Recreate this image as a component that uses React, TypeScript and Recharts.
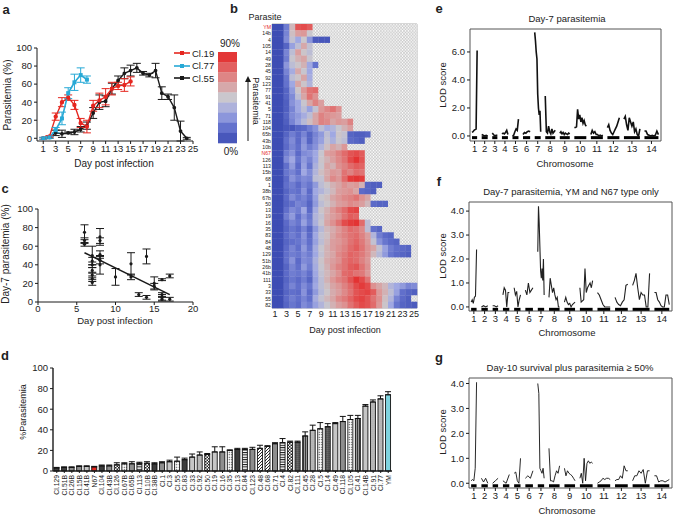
import React from 'react'
import {
  LineChart,
  Line,
  ScatterChart,
  Scatter,
  BarChart,
  Bar,
  Cell,
  XAxis,
  YAxis,
  ErrorBar,
  ReferenceLine,
  ReferenceArea,
} from 'recharts'

const FONT = 'Arial, "Liberation Sans", Helvetica, sans-serif'
const INK = '#1a1a1a'
const RED = '#e5261f'
const CYAN = '#27a9d6'
const CYAN_BAR = '#7fd4df'

// ---- a: parasitemia time course of three clones
const dayTicks = [1, 3, 5, 7, 9, 11, 13, 15, 17, 19, 21, 23, 25]
const cl19Pct = [0, 2, 24, 40, 45, 37, 17, 13, 36, 42, 46, 55, 58, 59, 63]
const cl19Err = [1, 1, 4, 5, 3, 5, 5, 7, 6, 8, 9, 7, 4, 7, 5]
const cl77Pct = [0, 1, 9, 22, 50, 62, 70, 65]
const cl77Err = [1, 1, 3, 7, 6, 9, 8, 4]
const cl55Pct = [0, 1, 6, 5, 6, 7, 10, 14, 28, 40, 41, 55, 64, 72, 75, 78, 72, 70, 75, 50, 46, 34, 8, 0]
const cl55Err = [0, 1, 3, 4, 1, 3, 3, 4, 6, 8, 6, 6, 5, 6, 6, 5, 2, 2, 8, 7, 3, 14, 11, 1]

// ---- b: heat map, one row per parasite, one value per day (% parasitemia)
const heatLabels = [
  'YM', '14b', '4', '105', '14', '49', '28', '45', '92', '123', '77', '91', '41', '5', '71',
  '118', '104', '65b', '43b', '10b', 'N67', '126', '113', '15b', '68', '1', '38b', '67b', '50', '13',
  '19', '16', '35', '83', '84', '48', '129', '51b', '26b', '41b', '111', '3', '33', '55', '82',
]
const heatRows: (number | null)[][] = [
  [1, 1, 18, 50, 78, 80, 76],
  [1, 1, 20, 48, 58, 60, 45],
  [1, 1, 22, 42, 30, 45, 25, 6, 5, 5],
  [1, 1, 10, 28, 40, 55, 42],
  [1, 1, 20, 40, 58, 46, 40],
  [1, 1, 18, 44, 52, 56, 44],
  [1, 1, 25, 40, 46, 52, 30, 15],
  [1, 1, 20, 32, 55, 44, 30],
  [1, 1, 16, 40, 46, 56, 32],
  [1, 1, 15, 30, 56, 46, 36],
  [1, 1, 10, 26, 46, 60, 70, 72],
  [1, 1, 10, 22, 40, 56, 70, 62],
  [1, 1, 8, 24, 30, 44, 56, 66, 58],
  [1, 1, 8, 20, 30, 40, 28, 42, 60, 65, 70, 62],
  [1, 1, 10, 22, 26, 32, 40, 56, 66, 62, 60, 58],
  [1, 1, 8, 20, 28, 38, 48, 56, 66, 64, 56, 60, 58, 66],
  [1, 1, 5, 5, 10, 12, 18, 24, 40, 32, 36, 44, 52, 58],
  [1, 1, 10, 18, 12, 20, 10, 20, 26, 40, 30, 46, 42, 10, 8, 8, 10],
  [1, 1, 14, 22, 12, 24, 10, 22, 28, 42, 34, 44, 40, 12, 10, 8],
  [1, 1, 12, 20, 14, 26, 18, 24, 36, 48, 56, 52, 60],
  [1, 1, 18, 24, 12, 22, 24, 30, 44, 58, 60, 66, 72, 78, 80, 76],
  [1, 1, 22, 30, 16, 26, 20, 30, 46, 52, 58, 64, 70, 80, 86, 78],
  [1, 1, 14, 26, 12, 28, 16, 34, 44, 56, 52, 62, 66, 72, 76, 74],
  [1, 1, 16, 20, 14, 30, 22, 36, 48, 54, 60, 58, 70, 66, 72, 70],
  [1, 1, 12, 24, 18, 22, 20, 40, 42, 56, 64, 60, 72, 84, 86, 84],
  [1, 1, 14, 18, 12, 20, 16, 26, 40, 46, 52, 56, 62, 58, 60, 52, 10, 8, 8],
  [1, 1, 10, 16, 14, 24, 12, 30, 36, 42, 50, 58, 60, 62, 56, 12, 10, 8],
  [1, 1, 12, 22, 16, 20, 14, 28, 44, 48, 56, 60, 64, 66, 70, 62, 56],
  [1, 1, 10, 14, 20, 18, 10, 26, 40, 46, 52, 58, 60, 64, 62, 58, 50, 12, 10, 10],
  [1, 1, 14, 22, 18, 30, 12, 32, 46, 52, 60, 66, 72, 80, 82],
  [1, 1, 18, 26, 14, 24, 16, 36, 42, 54, 58, 62, 70, 76, 74],
  [1, 1, 12, 20, 16, 28, 18, 34, 44, 56, 62, 70, 80, 84, 86, 72, 40],
  [1, 1, 10, 16, 12, 20, 10, 26, 38, 50, 54, 60, 66, 72, 70, 64, 40, 14, 10],
  [1, 1, 12, 18, 14, 24, 12, 30, 42, 48, 56, 62, 66, 70, 72, 66, 58, 36, 18, 12, 10],
  [1, 1, 10, 14, 16, 22, 14, 28, 40, 50, 58, 60, 64, 70, 74, 68, 60, 42, 24, 16, 12, 10],
  [1, 1, 12, 20, 14, 26, 16, 32, 44, 52, 58, 62, 66, 72, 76, 70, 62, 56, 42, 28, 18, 14, 12, 10],
  [1, 1, 14, 18, 16, 22, 18, 30, 42, 52, 56, 64, 68, 74, 72, 68, 62, 50, 38, 26, 16, 12, 10, 8],
  [1, 1, 14, 24, 12, 22, 20, 34, 46, 54, 58, 62, 70, 74, 72, 66, 60],
  [1, 1, 10, 20, 14, 26, 18, 32, 44, 52, 60, 66, 70, 76, 78, 70, 62],
  [1, 1, 12, 18, 16, 20, 14, 30, 42, 50, 56, 62, 72, 74, 70, 68, 60],
  [1, 1, 10, 16, 12, 18, 10, 28, 40, 52, 60, 66, 70, 78, 86, 80, 70],
  [1, 1, 12, 20, 14, 22, 16, 30, 40, 48, 56, 60, 66, 72, 80, 84, 80, 62, 56, 50, 36, 30, 26, 20, 22],
  [1, 1, 10, 14, 12, 24, 12, 26, 38, 46, 54, 58, 64, 70, 78, 80, 82, 76, 60, 52, 40, 28, 14, 10, 8],
  [1, 1, 12, 18, 14, 20, 14, 32, 42, 50, 56, 64, 68, 74, 80, 82, 78, 70, 62, 48, 36, 20, 12, 8],
  [1, 1, 10, 16, 12, 22, 18, 28, 36, 44, 52, 58, 62, 70, 76, 80, 78, 72, 60, 46, 30, 16, 10, 8, 6],
]
const heatDays = Array.from({ length: 25 }, (_, i) => i + 1)
const colorbarSteps = [85, 75, 65, 55, 45, 35, 25, 15, 5]

// ---- c: day-7 parasitemia against day of death
const c7Day = [6, 6, 6, 7, 7, 7, 7, 7, 7, 7, 8, 8, 8, 8, 8, 10, 12, 12, 13, 14, 14, 15, 15, 16, 16, 16, 16, 17, 17]
const c7Pct = [75, 66, 62, 50, 44, 40, 34, 29, 25, 21, 70, 66, 51, 45, 40, 27, 41, 27, 8, 49, 5, 20, 17, 24, 8, 5, 3, 28, 3]
const c7Err = [8, 3, 2, 10, 4, 3, 3, 3, 3, 3, 9, 3, 4, 4, 10, 9, 12, 3, 2, 8, 2, 7, 3, 1, 2, 3, 2, 2, 2]
const c7FitDay = [6, 17]
const c7FitPct = [53, 8]

// ---- d: day-7 parasitemia per clone
const barNames = [
  'Cl.129', 'Cl.51B', 'Cl.26B', 'Cl.15B', 'Cl.41B', 'N67', 'Cl.104', 'Cl.43B', 'Cl.126', 'Cl.67B',
  'Cl.65B', 'Cl.113', 'Cl.10B', 'Cl.38B', 'Cl.1', 'Cl.3', 'Cl.55', 'Cl.83', 'Cl.33', 'Cl.92',
  'Cl.50', 'Cl.19', 'Cl.16', 'Cl.35', 'Cl.13', 'Cl.84', 'Cl.123', 'Cl.48', 'Cl.68', 'Cl.71',
  'Cl.4', 'Cl.82', 'Cl.111', 'Cl.45', 'Cl.28', 'Cl.5', 'Cl.14', 'Cl.49', 'Cl.118', 'Cl.105',
  'Cl.41', 'Cl.14B', 'Cl.91', 'Cl.77', 'YM',
]
const barPct = [
  3, 3.5, 3.5, 4.5, 4.5, 4, 5, 5, 6, 7, 7, 7.5, 7.5, 7, 8, 9, 9.5, 11, 13.5, 15.5,
  16, 18.5, 18.5, 20, 21, 21, 21, 22, 24, 26.5, 27.5, 28, 28, 34, 39.5, 41, 43, 46, 48, 50,
  51, 63, 67, 70, 74,
]
const barErr = [
  0.5, 0.5, 0.5, 0.5, 0.5, 0.5, 0.8, 0.8, 2, 1, 2, 1, 1.5, 1, 1, 1.5, 4, 1.5, 3, 3,
  1, 5, 5, 0.5, 1, 1, 2, 3, 0.5, 1, 4, 1, 1, 4, 5, 6, 3, 1, 5, 4,
  3, 1.5, 2, 3, 3,
]

// ---- e, f, g: genome scans (chromosome sizes in Mb, LOD values along each chromosome)
const chromLengths = [0.9, 1.05, 0.9, 1.05, 1.05, 1.25, 1.05, 1.75, 1.75, 2.1, 2.1, 2.1, 2.8, 2.45]
const CHROM_GAP = 0.8
const GENOME_START = 0.35
const GENOME_END = 33.5

const lodDay7 = [
  [0.25, 0.3, 0.4, 0.45, 0.5, 6.1],
  [0.1, 0.05, 0.0, 0.05, 0.0],
  [0.2, 0.1, 0.0, 0.05, 0.05],
  [0.15, 0.2, 0.15, 0.25, 0.4, 0.1],
  [0.0, 0.05, 0.3, 0.5, 0.4, 1.2],
  [0.1, 0.25, 0.2, 0.3, 0.35, 0.3],
  [7.4, 6.8, 6.0, 5.5, 3.0, 2.0, 1.5, 1.8, 0.3],
  [2.85, 0.3, 0.2, 0.7, 0.3, 0.15, 0.5, 0.2, 0.3, 0.4],
  [0.2, 0.3, 0.15, 0.25, 0.1, 0.2, 0.15, 0.1, 0.2, 0.15],
  [0.6, 0.6, 0.65, 1.9, 1.2, 1.5, 1.0, 1.3, 0.9, 1.1, 0.8, 0.7],
  [0.1, 0.4, 0.2, 0.3, 0.1, 0.1, 0.0, 0.05, 0.0, 0.05],
  [0.6, 0.8, 0.4, 0.2, 0.1, 0.3, 0.5, 0.7, 1.0, 1.3],
  [1.2, 1.4, 0.8, 0.4, 1.3, 1.0, 0.7, 1.0, 0.3, 0.5, 0.1, 0.0, 0.5],
  [0.35, 0.35, 0.1, 0.05, 0.0, 0.05, 0.0, 0.05, 0.35, 0.1],
]
const lodYmN67 = [
  [0.2, 0.3, 0.15, 0.4, 0.45, 2.4],
  [0.0, 0.05, 0.0, 0.05],
  [0.05, 0.05, 0.0, 0.05],
  [0.5, 0.8, 0.7, 0.0, 0.6, 0.6],
  [0.8, 0.5, 0.65, 0.0, 0.3, 0.5],
  [0.7, 0.5, 1.0, 0.6, 0.7, 0.8],
  [2.3, 4.2, 3.5, 2.5, 1.5, 1.2, 1.6, 1.1, 2.0, 0.5],
  [0.4, 1.2, 0.9, 0.6, 0.8, 0.5, 0.3, 0.4, 0.0, 0.0],
  [0.2, 0.4, 0.2, 0.1, 0.15, 0.0, 0.1, 0.15, 0.2],
  [0.8, 0.2, 0.25, 0.3, 1.6, 0.6, 0.8, 0.9, 1.0, 0.8, 1.1],
  [0.6, 0.5, 0.3, 0.1, 0.0, 0.0, 0.0, 0.0],
  [0.4, 0.2, 0.1, 0.05, 0.2, 0.3, 0.9, 0.95],
  [0.9, 1.1, 1.4, 0.8, 0.3, 0.6, 0.5, 0.5, 0.0, 0.0, 1.4],
  [0.6, 0.6, 0.3, 0.2, 0.05, 0.0, 0.0, 0.5, 0.5, 0.1],
]
const lodDay10 = [
  [0.1, 0.15, 0.1, 0.6, 4.05],
  [0.2, 0.05, 0.2, 0.0],
  [0.0, 0.1, 0.2],
  [0.1, 0.0, 0.35],
  [0.4, 0.45, 0.1, 0.0, 1.0],
  [0.2, 0.3, 0.2, 0.5],
  [4.0, 3.6, 0.6, 0.5, 0.4, 0.6, 0.2],
  [1.4, 0.1, 0.1, 0.05, 0.3, 0.5, 0.4, 0.7],
  [0.6, 0.3, 0.5, 0.4, 0.35, 0.3, 0.2, 0.1],
  [0.2, 0.4, 0.0, 1.0, 0.1, 0.8, 0.9, 0.8, 0.85, 0.8],
  [0.0, 0.05, 0.1, 0.2, 0.15, 0.2, 0.2, 0.15],
  [0.1, 0.15, 0.15, 0.3, 0.2, 0.7, 0.5, 0.5],
  [0.1, 0.3, 0.3, 0.5, 0.4, 0.55, 0.0, 0.5, 0.5],
  [0.3, 0.3, 0.05, 0.1, 0.1, 0.05, 0.1, 0.15],
]

// ---------- derived tables ----------
const toRows = (vals: number[], errs: number[]) => vals.map((v, i) => ({ day: i + 1, v, e: errs[i] }))
const cl19Rows = toRows(cl19Pct, cl19Err)
const cl77Rows = toRows(cl77Pct, cl77Err)
const cl55Rows = toRows(cl55Pct, cl55Err)

const heatCells = heatRows.flatMap((vals, r) => heatDays.map((d) => ({ day: d, row: r, v: vals[d - 1] ?? null })))

const c7Points = c7Day.map((d, i) => ({ day: d, pct: c7Pct[i], err: c7Err[i] }))
const c7Fit = c7FitDay.map((d, i) => ({ day: d, pct: c7FitPct[i] }))

const barRows = barNames.map((n, i) => ({ name: n, v: barPct[i], err: [0, barErr[i]] }))

const chromStarts: number[] = []
chromLengths.reduce((pos, len) => {
  chromStarts.push(pos)
  return pos + len + CHROM_GAP
}, GENOME_START)
const chromCenters = chromStarts.map((s, i) => s + chromLengths[i] / 2)

function lodRows(chroms: number[][]) {
  const out: { pos: number; lod: number | null }[] = []
  chroms.forEach((vals, c) => {
    const s = chromStarts[c]
    const len = chromLengths[c]
    vals.forEach((v, i) => out.push({ pos: s + (len * i) / (vals.length - 1), lod: v }))
    out.push({ pos: s + len + CHROM_GAP / 2, lod: null })
  })
  return out
}

// ---------- styling helpers ----------
const HEAT_STOPS: [number, number[]][] = [
  [0, [58, 74, 178]],
  [15, [100, 114, 205]],
  [30, [160, 168, 226]],
  [45, [202, 199, 205]],
  [60, [220, 152, 152]],
  [75, [226, 96, 96]],
  [90, [228, 34, 34]],
]
function heatColor(v: number) {
  const x = Math.max(0, Math.min(90, v))
  for (let i = 1; i < HEAT_STOPS.length; i++) {
    const [v1, c1] = HEAT_STOPS[i]
    const [v0, c0] = HEAT_STOPS[i - 1]
    if (x <= v1) {
      const t = (x - v0) / (v1 - v0)
      const c = c0.map((k, j) => Math.round(k + (c1[j] - k) * t))
      return `rgb(${c[0]},${c[1]},${c[2]})`
    }
  }
  return 'rgb(228,34,34)'
}

const barPattern: Record<string, string> = {
  'Cl.129': 'dk', 'Cl.51B': 'dk', 'Cl.26B': 'gy', 'Cl.15B': 'gy', 'Cl.41B': 'lg', 'Cl.104': 'dk',
  'Cl.43B': 'gy', 'Cl.126': 'ck', 'Cl.67B': 'wd', 'Cl.65B': 'gy', 'Cl.113': 'hl', 'Cl.10B': 'ck',
  'Cl.38B': 'dk', 'Cl.1': 'gy', 'Cl.3': 'lg', 'Cl.55': 'wd', 'Cl.83': 'dk', 'Cl.33': 'lg',
  'Cl.92': 'gd', 'Cl.50': 'ck', 'Cl.19': 'lg', 'Cl.16': 'gy', 'Cl.35': 'wd', 'Cl.13': 'dk',
  'Cl.84': 'hl', 'Cl.123': 'gy', 'Cl.48': 'dg', 'Cl.68': 'dg', 'Cl.71': 'gy', 'Cl.4': 'hl',
  'Cl.82': 'ck', 'Cl.111': 'dt', 'Cl.45': 'vl', 'Cl.28': 'gd', 'Cl.5': 'wd', 'Cl.14': 'dt',
  'Cl.49': 'lg', 'Cl.118': 'gy', 'Cl.105': 'wd', 'Cl.41': 'vl', 'Cl.14B': 'lg', 'Cl.91': 'gd',
  'Cl.77': 'gd',
}
const barFill = (name: string) => {
  if (name === 'N67') return RED
  if (name === 'YM') return CYAN_BAR
  return `url(#bp-${barPattern[name]})`
}

type Box = { x0: number; y0: number; x1: number; y1: number }
const PAD = 12
function frame(b: Box, yw: number, xh: number) {
  return {
    style: { position: 'absolute' as const, left: b.x0 - yw - PAD, top: b.y0 - PAD },
    width: b.x1 - b.x0 + yw + 2 * PAD,
    height: b.y1 - b.y0 + xh + 2 * PAD,
    margin: { top: PAD, right: PAD, bottom: PAD, left: PAD },
  }
}

function Txt(props: { x: number; y: number; size?: number; rot?: number; bold?: boolean; color?: string; children: React.ReactNode }) {
  const { x, y, size = 10, rot = 0, bold = false, color = '#222', children } = props
  return (
    <div
      style={{
        position: 'absolute',
        left: x,
        top: y,
        transform: `translate(-50%, -50%) rotate(${rot}deg)`,
        fontSize: size,
        fontWeight: bold ? 700 : 400,
        color,
        whiteSpace: 'nowrap',
        lineHeight: 1,
      }}
    >
      {children}
    </div>
  )
}

const tickStyle = { fontSize: 9.5, fill: '#222' }

// ---------- panel a ----------
const aBox = { x0: 37, y0: 48, x1: 193, y1: 141 }
function PanelA() {
  const f = frame(aBox, 25, 20)
  const square = (p: any) => <rect key={`s${p.index}`} x={p.cx - 2} y={p.cy - 2} width={4} height={4} fill={CYAN} />
  return (
    <div style={f.style}>
      <LineChart width={f.width} height={f.height} margin={f.margin}>
        <XAxis type="number" dataKey="day" domain={[0, 25]} ticks={dayTicks} interval={0} tick={tickStyle}
          tickSize={3} tickMargin={1} stroke={INK} height={20} allowDuplicatedCategory={false} />
        <YAxis type="number" domain={[0, 100]} ticks={[0, 20, 40, 60, 80, 100]} interval={0} tick={tickStyle}
          tickSize={3} stroke={INK} width={25} />
        <Line data={cl55Rows} dataKey="v" stroke={INK} strokeWidth={1.4} dot={{ r: 1.2, fill: INK }} isAnimationActive={false}>
          <ErrorBar dataKey="e" width={4} stroke={INK} strokeWidth={1} direction="y" />
        </Line>
        <Line data={cl19Rows} dataKey="v" stroke={RED} strokeWidth={1.4} dot={{ r: 1.5, fill: RED, stroke: RED }} isAnimationActive={false}>
          <ErrorBar dataKey="e" width={4} stroke={RED} strokeWidth={1} direction="y" />
        </Line>
        <Line data={cl77Rows} dataKey="v" stroke={CYAN} strokeWidth={1.6} dot={square} isAnimationActive={false}>
          <ErrorBar dataKey="e" width={4} stroke={CYAN} strokeWidth={1} direction="y" />
        </Line>
      </LineChart>
    </div>
  )
}

function LegendA() {
  const items = [
    { name: 'Cl.19', color: RED },
    { name: 'Cl.77', color: CYAN },
    { name: 'Cl.55', color: INK },
  ]
  return (
    <div style={{ position: 'absolute', left: 174, top: 47 }}>
      {items.map((it) => (
        <div key={it.name} style={{ display: 'flex', alignItems: 'center', height: 12.5, fontSize: 9.5, color: '#222' }}>
          <svg width={16} height={6} style={{ marginRight: 2 }}>
            <line x1={0} y1={3} x2={16} y2={3} stroke={it.color} strokeWidth={1.6} />
            <rect x={6} y={1} width={4} height={4} fill={it.color} />
          </svg>
          {it.name}
        </div>
      ))}
    </div>
  )
}

// ---------- panel b ----------
const bBox = { x0: 272, y0: 24, x1: 417, y1: 308 }
const CW = (bBox.x1 - bBox.x0) / heatDays.length
const CH = (bBox.y1 - bBox.y0) / heatLabels.length

function HeatCell(p: any) {
  const { cx, cy, payload } = p
  const fill = payload.v == null ? 'url(#hatch)' : heatColor(payload.v)
  return <rect x={cx - CW / 2} y={cy - CH / 2} width={CW + 0.3} height={CH + 0.3} fill={fill} />
}

function HeatTick(p: any) {
  const lab = heatLabels[p.payload.value]
  const red = lab === 'YM' || lab === 'N67'
  return (
    <text x={p.x} y={p.y} dy={2} textAnchor="end" fontSize={5.2} fill={red ? RED : '#222'}>
      {lab}
    </text>
  )
}

function PanelB() {
  const f = frame(bBox, 30, 16)
  const rowTicks = heatLabels.map((_, i) => i)
  return (
    <div style={f.style}>
      <ScatterChart width={f.width} height={f.height} margin={f.margin}>
        <defs>
          <pattern id="hatch" patternUnits="userSpaceOnUse" width={2.9} height={3.15}>
            <rect width={2.9} height={3.15} fill="#fff" />
            <path d="M0,0 L2.9,3.15 M2.9,0 L0,3.15" stroke="#9a9a9a" strokeWidth={0.45} />
          </pattern>
        </defs>
        <XAxis type="number" dataKey="day" domain={[0.5, 25.5]} ticks={dayTicks} interval={0} tick={{ fontSize: 9, fill: '#222' }}
          tickLine={false} axisLine={false} tickSize={0} tickMargin={3} height={16} />
        <YAxis type="number" dataKey="row" domain={[-0.5, 44.5]} reversed ticks={rowTicks} interval={0} tick={HeatTick}
          tickLine={false} axisLine={false} tickSize={0} tickMargin={1} width={30} />
        <Scatter data={heatCells} shape={HeatCell} isAnimationActive={false} />
        {heatDays.slice(1).map((d) => (
          <ReferenceLine key={d} x={d - 0.5} stroke="#222" strokeOpacity={0.45} strokeWidth={0.6} />
        ))}
        <ReferenceArea x1={0.5} x2={25.5} y1={-0.5} y2={44.5} fill="none" stroke="#999" strokeWidth={0.8} ifOverflow="visible" />
      </ScatterChart>
    </div>
  )
}

function Colorbar() {
  const h = 91 / colorbarSteps.length
  return (
    <svg style={{ position: 'absolute', left: 214, top: 50 }} width={40} height={96}>
      {colorbarSteps.map((v, i) => (
        <rect key={v} x={4} y={2 + i * h} width={19} height={h + 0.3} fill={heatColor(v)} />
      ))}
      <line x1={34} y1={91} x2={34} y2={31} stroke={INK} strokeWidth={1} />
      <path d="M31,32 L34,26 L37,32 Z" fill={INK} />
    </svg>
  )
}

// ---------- panel c ----------
const cBox = { x0: 38, y0: 209, x1: 193, y1: 302 }
function PanelC() {
  const f = frame(cBox, 26, 16)
  const dotShape = (p: any) => <circle cx={p.cx} cy={p.cy} r={1.6} fill={INK} />
  return (
    <div style={f.style}>
      <ScatterChart width={f.width} height={f.height} margin={f.margin}>
        <XAxis type="number" dataKey="day" domain={[0, 20]} ticks={[0, 5, 10, 15, 20]} interval={0} tick={tickStyle}
          tickSize={3} tickMargin={0} stroke={INK} height={16} />
        <YAxis type="number" dataKey="pct" domain={[0, 100]} ticks={[0, 20, 40, 60, 80, 100]} interval={0} tick={tickStyle}
          tickSize={3} stroke={INK} width={26} />
        <Scatter data={c7Points} shape={dotShape} isAnimationActive={false}>
          <ErrorBar dataKey="err" width={4} stroke={INK} strokeWidth={1} direction="y" />
        </Scatter>
        <Scatter data={c7Fit} line={{ stroke: INK, strokeWidth: 1.5 }} shape={() => <g />} isAnimationActive={false} />
      </ScatterChart>
    </div>
  )
}

// ---------- panel d ----------
const dBox = { x0: 53, y0: 368, x1: 392, y1: 471 }
function BarTick(p: any) {
  return (
    <text x={p.x} y={p.y} transform={`rotate(-90, ${p.x}, ${p.y})`} dy={2.4} textAnchor="end" fontSize={6.8} fill="#222">
      {p.payload.value}
    </text>
  )
}
function PanelD() {
  const f = frame(dBox, 28, 40)
  return (
    <div style={f.style}>
      <BarChart width={f.width} height={f.height} margin={f.margin} data={barRows} barCategoryGap="14%">
        <defs>
          <pattern id="bp-dk" patternUnits="userSpaceOnUse" width={2} height={2}>
            <rect width={2} height={2} fill="#3c3c3c" />
          </pattern>
          <pattern id="bp-gy" patternUnits="userSpaceOnUse" width={2} height={2}>
            <rect width={2} height={2} fill="#8e8e8e" />
          </pattern>
          <pattern id="bp-lg" patternUnits="userSpaceOnUse" width={2} height={2}>
            <rect width={2} height={2} fill="#c6c6c6" />
          </pattern>
          <pattern id="bp-dg" patternUnits="userSpaceOnUse" width={3} height={3}>
            <rect width={3} height={3} fill="#fff" />
            <path d="M0,3 L3,0 M-1,1 L1,-1 M2,4 L4,2" stroke="#111" strokeWidth={0.9} />
          </pattern>
          <pattern id="bp-dt" patternUnits="userSpaceOnUse" width={2} height={2}>
            <rect width={2} height={2} fill="#444" />
            <rect x={0.5} y={0.5} width={0.8} height={0.8} fill="#ddd" />
          </pattern>
          <pattern id="bp-wd" patternUnits="userSpaceOnUse" width={2.5} height={2.5}>
            <rect width={2.5} height={2.5} fill="#fff" />
            <circle cx={1.25} cy={1.25} r={0.6} fill="#222" />
          </pattern>
          <pattern id="bp-hl" patternUnits="userSpaceOnUse" width={3} height={2.4}>
            <rect width={3} height={2.4} fill="#fff" />
            <rect y={0} width={3} height={1} fill="#111" />
          </pattern>
          <pattern id="bp-vl" patternUnits="userSpaceOnUse" width={2} height={2}>
            <rect width={2} height={2} fill="#999" />
            <rect x={0} width={0.8} height={2} fill="#222" />
          </pattern>
          <pattern id="bp-ck" patternUnits="userSpaceOnUse" width={3} height={3}>
            <rect width={3} height={3} fill="#fff" />
            <rect width={1.5} height={1.5} fill="#222" />
            <rect x={1.5} y={1.5} width={1.5} height={1.5} fill="#222" />
          </pattern>
          <pattern id="bp-gd" patternUnits="userSpaceOnUse" width={2} height={2}>
            <rect width={2} height={2} fill="#a8a8a8" />
            <rect x={0.5} y={0.5} width={0.9} height={0.9} fill="#eee" />
          </pattern>
        </defs>
        <XAxis dataKey="name" interval={0} tick={(p: any) => <BarTick {...p} />} tickSize={2} stroke={INK} height={40}
          axisLine={{ strokeWidth: 1.4 }} />
        <YAxis type="number" domain={[0, 100]} ticks={[0, 20, 40, 60, 80, 100]} interval={0} tick={tickStyle}
          tickSize={3} stroke={INK} width={28} axisLine={{ strokeWidth: 1.4 }} />
        <Bar dataKey="v" stroke="#111" strokeWidth={0.9} isAnimationActive={false}>
          {barRows.map((r) => (
            <Cell key={r.name} fill={barFill(r.name)} />
          ))}
          <ErrorBar dataKey="err" width={3} stroke="#111" strokeWidth={1} direction="y" />
        </Bar>
      </BarChart>
    </div>
  )
}

// ---------- panels e, f, g ----------
function LodPanel(props: { box: Box; yDomain: [number, number]; yTicks: number[]; chroms: number[][]; lineWidth: number; color: string; barY: number }) {
  const { box, yDomain, yTicks, chroms, lineWidth, color, barY } = props
  const f = frame(box, 26, 16)
  const data = lodRows(chroms)
  return (
    <div style={f.style}>
      <LineChart width={f.width} height={f.height} margin={f.margin} data={data}>
        <XAxis type="number" dataKey="pos" domain={[0, GENOME_END]} ticks={chromCenters} interval={0}
          tickFormatter={(v: number) => String(chromCenters.indexOf(v) + 1)} tick={tickStyle}
          tickSize={3} tickMargin={1} stroke={INK} axisLine={false} height={16} />
        <YAxis type="number" domain={yDomain} ticks={yTicks} interval={0} tickFormatter={(v: number) => v.toFixed(1)}
          tick={tickStyle} tickSize={3} stroke={INK} axisLine={false} width={26} />
        <ReferenceArea x1={0} x2={GENOME_END} y1={yDomain[0]} y2={yDomain[1]} fill="none" stroke="#555" strokeWidth={1}
          ifOverflow="visible" />
        {chromStarts.map((s, i) => (
          <ReferenceLine key={i} segment={[{ x: s, y: barY }, { x: s + chromLengths[i], y: barY }]} stroke="#000" strokeWidth={3} />
        ))}
        <Line dataKey="lod" stroke={color} strokeWidth={lineWidth} dot={false} isAnimationActive={false} />
      </LineChart>
    </div>
  )
}

export default function App() {
  return (
    <div
      style={{
        position: 'absolute',
        left: 0,
        top: 0,
        width: 675,
        height: 517,
        background: '#fff',
        fontFamily: FONT,
        overflow: 'hidden',
      }}
    >
      <PanelA />
      <LegendA />
      <PanelB />
      <Colorbar />
      <PanelC />
      <PanelD />
      <LodPanel box={{ x0: 470, y0: 29, x1: 661, y1: 141 }} yDomain={[-0.36, 7.64]} yTicks={[0, 2, 4, 6]}
        chroms={lodDay7} lineWidth={1.6} color="#111" barY={-0.12} />
      <LodPanel box={{ x0: 469, y0: 202, x1: 672, y1: 311 }} yDomain={[-0.17, 4.38]} yTicks={[0, 1, 2, 3, 4]}
        chroms={lodYmN67} lineWidth={1.1} color="#222" barY={-0.1} />
      <LodPanel box={{ x0: 469, y0: 378, x1: 672, y1: 488 }} yDomain={[-0.19, 4.22]} yTicks={[0, 1, 2, 3, 4]}
        chroms={lodDay10} lineWidth={0.9} color="#111" barY={-0.1} />

      <Txt x={6} y={9} size={13} bold>a</Txt>
      <Txt x={234} y={8} size={13} bold>b</Txt>
      <Txt x={5} y={188} size={13} bold>c</Txt>
      <Txt x={5} y={355} size={13} bold>d</Txt>
      <Txt x={439} y={8} size={13} bold>e</Txt>
      <Txt x={439} y={181} size={13} bold>f</Txt>
      <Txt x={439} y={357} size={13} bold>g</Txt>

      <Txt x={8} y={95} size={10} rot={-90}>Parasitemia (%)</Txt>
      <Txt x={114} y={164} size={10}>Day post infection</Txt>

      <Txt x={265} y={17} size={9}>Parasite</Txt>
      <Txt x={230} y={44} size={10}>90%</Txt>
      <Txt x={231} y={152} size={10}>0%</Txt>
      <Txt x={255} y={101} size={9} rot={90}>Parasitemia</Txt>
      <Txt x={345} y={330} size={9}>Day post infection</Txt>

      <Txt x={6} y={254} size={10} rot={-90}>Day-7 parasitemia (%)</Txt>
      <Txt x={115} y={321} size={9.5}>Day post infection</Txt>

      <Txt x={23} y={412} size={9} rot={-90}>%Parasitemia</Txt>

      <Txt x={567} y={19} size={9.5}>Day-7 parasitemia</Txt>
      <Txt x={443} y={85} size={9.5} rot={-90}>LOD score</Txt>
      <Txt x={565} y={164} size={9.5}>Chromosome</Txt>

      <Txt x={571} y={192} size={9.5}>Day-7 parasitemia, YM and N67 type only</Txt>
      <Txt x={443} y={256} size={9.5} rot={-90}>LOD score</Txt>
      <Txt x={567} y={333} size={9.5}>Chromosome</Txt>

      <Txt x={570} y={368} size={9.5}>Day-10 survival plus parasitemia ≥ 50%</Txt>
      <Txt x={443} y={432} size={9.5} rot={-90}>LOD score</Txt>
      <Txt x={567} y={511} size={9.5}>Chromosome</Txt>
    </div>
  )
}
